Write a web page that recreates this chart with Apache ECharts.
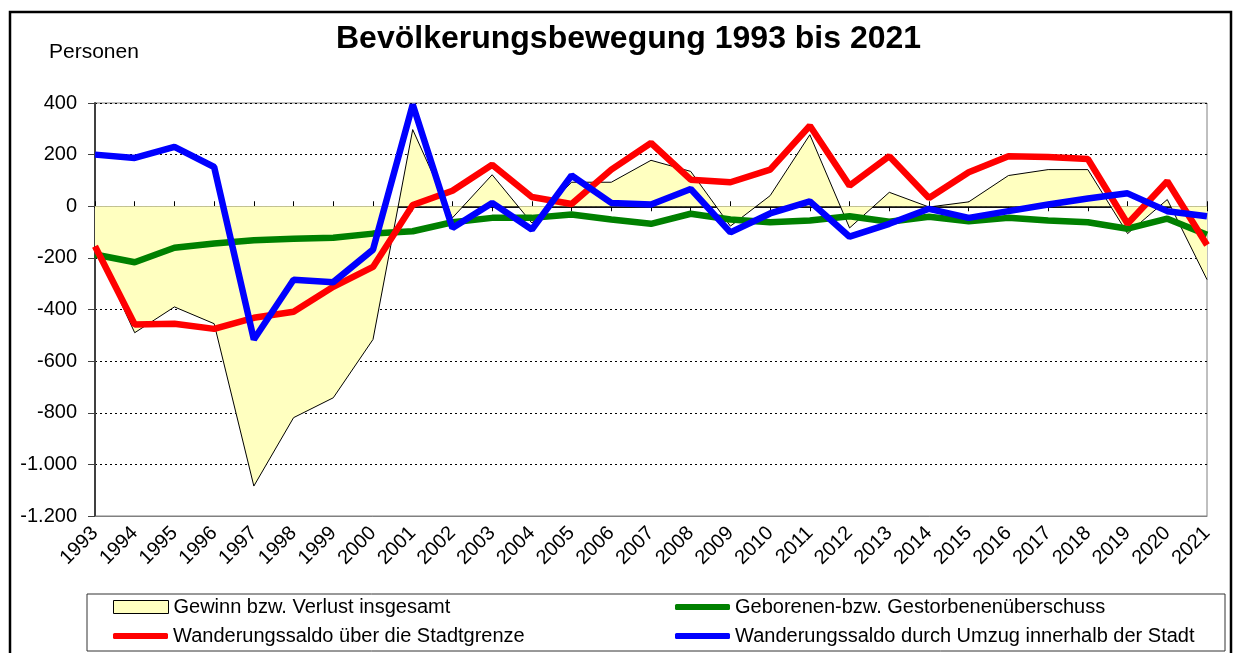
<!DOCTYPE html>
<html>
<head>
<meta charset="utf-8">
<title>Bevölkerungsbewegung 1993 bis 2021</title>
<script src="https://cdn.jsdelivr.net/npm/echarts@6/dist/echarts.min.js"></script>
<style>
  html, body { margin: 0; padding: 0; background: #fff; }
  #main { width: 1237px; height: 653px; }
</style>
</head>
<body>
<div id="main"></div>
<script>
// Jahre
var years = ['1993', '1994', '1995', '1996', '1997', '1998', '1999', '2000', '2001', '2002',
  '2003', '2004', '2005', '2006', '2007', '2008', '2009', '2010', '2011', '2012',
  '2013', '2014', '2015', '2016', '2017', '2018', '2019', '2020', '2021'];

// Gewinn bzw. Verlust insgesamt
var gesamt = [-155, -490, -390, -455, -1084, -819, -742, -516, 297, -45,
  122, -65, 93, 93, 178, 135, -77, 41, 277, -84,
  54, -3, 17, 119, 142, 142, -106, 26, -284];

// Geborenen- bzw. Gestorbenenüberschuss
var natuerlich = [-187, -217, -161, -144, -132, -126, -122, -106, -97, -62,
  -45, -45, -32, -51, -68, -29, -51, -62, -55, -39,
  -60, -41, -58, -45, -55, -62, -87, -48, -110];

// Wanderungssaldo über die Stadtgrenze
var wanderung = [-155, -458, -455, -475, -432, -409, -312, -235, 5, 60,
  161, 36, 9, 142, 245, 103, 93, 142, 312, 80,
  194, 32, 132, 194, 191, 183, -68, 97, -150];

// Wanderungssaldo durch Umzug innerhalb der Stadt
var umzug = [200, 187, 230, 152, -516, -285, -294, -168, 394, -84,
  13, -90, 119, 13, 7, 67, -101, -28, 19, -118,
  -68, -10, -45, -19, 7, 30, 50, -19, -39];

var yMin = -1200, yMax = 400, yStep = 200;

var font = 'Liberation Sans, Arial, sans-serif';

function deNum(v) {
  var s = String(Math.abs(v));
  if (s.length > 3) s = s.slice(0, s.length - 3) + '.' + s.slice(s.length - 3);
  return (v < 0 ? '-' : '') + s;
}

var gridPos = { left: 95, right: 30, top: 103, bottom: 137 };

var myChart = echarts.init(document.getElementById('main'));

function legendBox(name, left, top, icon, h, style) {
  return {
    data: [{ name: name, icon: icon, itemStyle: style }],
    left: left, top: top,
    orient: 'horizontal',
    padding: 0,
    itemWidth: 55, itemHeight: h,
    selectedMode: false,
    textStyle: { fontSize: 20, color: '#000', fontFamily: font }
  };
}

myChart.setOption({
  animation: false,
  title: {
    text: 'Bevölkerungsbewegung 1993 bis 2021',
    left: 336,
    top: 23,
    padding: 0,
    textStyle: { fontSize: 32, fontWeight: 'bold', color: '#000', fontFamily: font }
  },
  graphic: [
    { type: 'rect', shape: { x: 10, y: 12, width: 1221, height: 660 },
      style: { fill: 'none', stroke: '#000', lineWidth: 2.5 }, silent: true },
    { type: 'text', left: 49, top: 42,
      style: { text: 'Personen', fontSize: 21, fill: '#000', fontFamily: font } },
    { type: 'rect', shape: { x: 87, y: 594, width: 1138, height: 57 },
      style: { fill: 'none', stroke: '#333', lineWidth: 1 }, silent: true }
  ],
  legend: [
    legendBox('Gewinn bzw. Verlust insgesamt', 113, 597, 'rect', 13,
      { color: '#FFFFC0', borderColor: '#000', borderWidth: 1 }),
    legendBox('Wanderungssaldo über die Stadtgrenze', 113, 626, 'roundRect', 6,
      { color: '#FF0000' }),
    legendBox('Geborenen-bzw. Gestorbenenüberschuss', 675, 597, 'roundRect', 6,
      { color: '#008000' }),
    legendBox('Wanderungssaldo durch Umzug innerhalb der Stadt', 675, 626, 'roundRect', 6,
      { color: '#0000FF' })
  ],
  grid: [
    Object.assign({ show: true, borderColor: '#808080', borderWidth: 1, backgroundColor: 'transparent' }, gridPos),
    Object.assign({}, gridPos)
  ],
  xAxis: [
    {
      type: 'category', gridIndex: 0, data: years, boundaryGap: false, position: 'bottom',
      axisLine: { onZero: false, lineStyle: { color: '#808080', width: 1 } },
      axisTick: { show: false },
      axisLabel: { interval: 0, rotate: 45, margin: 14, fontSize: 20, color: '#000', fontFamily: font }
    },
    {
      type: 'category', gridIndex: 0, data: years, boundaryGap: false, position: 'top',
      axisLine: { onZero: true, lineStyle: { color: '#000', width: 1.5 } },
      axisTick: { show: true, interval: 0, length: 5, lineStyle: { color: '#000', width: 1 } },
      axisLabel: { show: false }
    },
    {
      type: 'category', gridIndex: 1, data: years, boundaryGap: false, position: 'bottom',
      axisLine: { onZero: true, lineStyle: { color: '#000', width: 1.5 } },
      axisTick: { show: true, interval: 0, length: 5, lineStyle: { color: '#000', width: 1 } },
      axisLabel: { show: false }
    }
  ],
  yAxis: [
    {
      type: 'value', gridIndex: 0, min: yMin, max: yMax, interval: yStep,
      axisLine: { show: true, lineStyle: { color: '#404040', width: 2 } },
      axisTick: { show: true, length: 7, lineStyle: { color: '#404040', width: 1 } },
      axisLabel: { margin: 18, fontSize: 20, color: '#000', fontFamily: font, formatter: deNum },
      splitLine: { show: true, lineStyle: { color: '#000', width: 1, type: [2, 3] } }
    },
    {
      type: 'value', gridIndex: 1, min: yMin, max: yMax, interval: yStep,
      show: false, splitLine: { show: false }
    }
  ],
  series: [
    {
      name: 'Gewinn bzw. Verlust insgesamt',
      type: 'line', xAxisIndex: 0, yAxisIndex: 0,
      data: gesamt, symbol: 'none', silent: true,
      itemStyle: { color: '#FFFFC0' },
      lineStyle: { color: '#000', width: 1 },
      areaStyle: { color: '#FFFFC0', opacity: 1, origin: 0 },
      z: 2
    },
    {
      name: 'Geborenen-bzw. Gestorbenenüberschuss',
      type: 'line', xAxisIndex: 0, yAxisIndex: 0,
      data: natuerlich, symbol: 'none', silent: true,
      itemStyle: { color: '#008000' },
      lineStyle: { color: '#008000', width: 6.5 },
      z: 3
    },
    {
      name: 'Wanderungssaldo über die Stadtgrenze',
      type: 'line', xAxisIndex: 0, yAxisIndex: 0,
      data: wanderung, symbol: 'none', silent: true,
      itemStyle: { color: '#FF0000' },
      lineStyle: { color: '#FF0000', width: 6.5 },
      z: 4
    },
    {
      name: 'Wanderungssaldo durch Umzug innerhalb der Stadt',
      type: 'line', xAxisIndex: 0, yAxisIndex: 0,
      data: umzug, symbol: 'none', silent: true,
      itemStyle: { color: '#0000FF' },
      lineStyle: { color: '#0000FF', width: 6.5 },
      z: 5
    }
  ]
});
</script>
</body>
</html>
